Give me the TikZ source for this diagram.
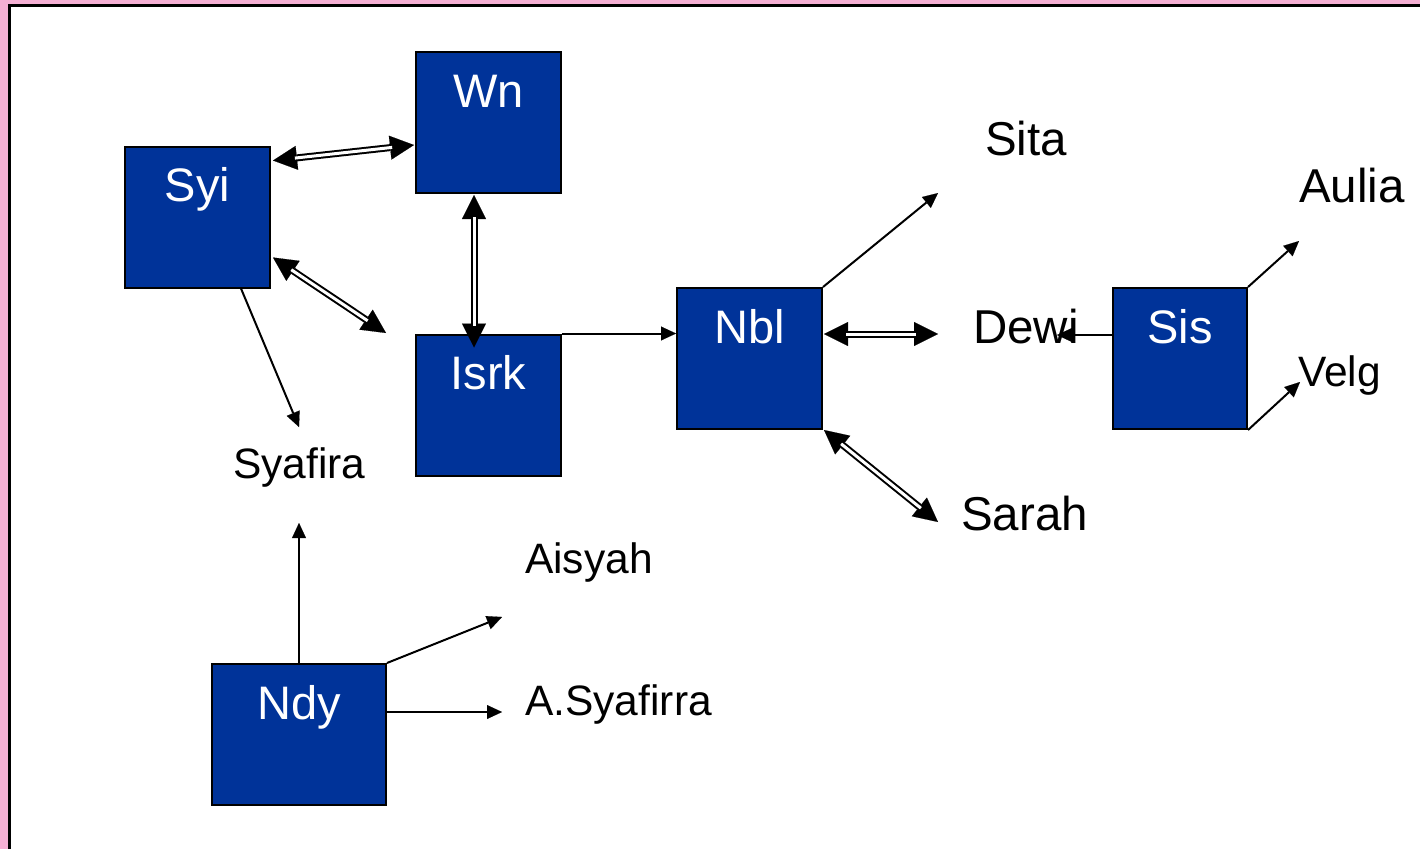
\documentclass[tikz,border=0pt]{standalone}
\usepackage{fontspec}
\setmainfont{Liberation Sans}
\usetikzlibrary{arrows.meta,calc}
\definecolor{boxblue}{RGB}{0,51,153}
\definecolor{pinkbg}{RGB}{245,176,212}
\tikzset{
  bx/.style={draw=black, line width=2pt, fill=boxblue, text=white, inner sep=0pt,
    minimum height=141pt, text height=55pt, text depth=86pt,
    font=\fontsize{47pt}{51pt}\selectfont},
  bigtxt/.style={inner sep=0pt, anchor=base west, font=\fontsize{47.5pt}{51pt}\selectfont},
  smtxt/.style={inner sep=0pt, anchor=base west, font=\fontsize{42.5pt}{46pt}\selectfont},
  sarr/.style={line width=2pt, -{Triangle[length=15pt,width=14pt,line width=0.1pt]}},
  dblout/.style={line width=7pt, {Triangle[length=24pt,width=24pt,line width=0.1pt]}-{Triangle[length=24pt,width=24pt,line width=0.1pt]}},
  dblin/.style={line width=3pt, white, shorten <=22pt, shorten >=22pt}
}
\begin{document}
\begin{tikzpicture}[x=1pt,y=-1pt]
\useasboundingbox (0,0) rectangle (1420,849);
\fill[pinkbg] (0,0) rectangle (1420,849);
\fill[white] (9,5) rectangle (1420,849);
\draw[line width=3pt] (9,849) -- (9,5) -- (1420,5);

% boxes
\node[bx, minimum width=145pt] (wn) at (488.5,122.5) {Wn};
\node[bx, minimum width=145pt] (syi) at (197.5,217) {Syi};
\node[bx, minimum width=145pt] (isrk) at (488.5,405) {Isrk};
\node[bx, minimum width=145pt] (nbl) at (749.5,358.5) {Nbl};
\node[bx, minimum width=134pt] (sis) at (1180,358.5) {Sis};
\node[bx, minimum width=174pt] (ndy) at (299,734.5) {Ndy};

% labels
\node[bigtxt] (sita) at (985,155) {Sita};
\node[bigtxt] (aulia) at (1299,202) {Aulia};
\node[bigtxt] (dewi) at (973,343) {Dewi};
\node[bigtxt] (sarah) at (961,530) {Sarah};
\node[smtxt] (velg) at (1298,386) {Velg};
\node[smtxt] (syafira) at (233,478) {Syafira};
\node[smtxt] (aisyah) at (525,573) {Aisyah};
\node[smtxt] (asyafirra) at (525,715) {A.Syafirra};

% connector end points
\coordinate (d1a) at ($(syi.north east)+(2,15)$);
\coordinate (d1b) at ($(wn.north west)+(-1,94)$);
\coordinate (d2a) at ($(syi.south east)+(2,-31)$);
\coordinate (c1) at (386,333);
\coordinate (d3a) at ($(wn.south)+(-14.5,1)$);
\coordinate (d3b) at ($(isrk.north)+(-14.5,14)$);
\coordinate (c2) at (938,334);
\coordinate (d4a) at ($(nbl.east |- c2)+(1,0)$);
\coordinate (d5a) at ($(nbl.south east)+(1,0)$);
\coordinate (c3) at (938,522);
\coordinate (c4) at (299,427);
\coordinate (c5) at (938,193);
\coordinate (c6) at (1057,335);
\coordinate (c7) at (1299,241);
\coordinate (c8) at (1300,382);
\coordinate (c9) at (299,523);
\coordinate (c10) at (502,617);
\coordinate (c11) at (502,712);

% double arrows
\foreach \a/\b in {d1a/d1b, d2a/c1, d3a/d3b, d4a/c2, d5a/c3}{
  \draw[dblout] (\a) -- (\b);
  \draw[dblin] (\a) -- (\b);
}

% single arrows
\draw[sarr] ($(syi.south)+(43.5,0)$) -- (c4);
\draw[sarr] (isrk.north east) -- (nbl.west |- isrk.north east);
\draw[sarr] (nbl.north east) -- (c5);
\draw[sarr] (sis.west |- c6) -- (c6);
\draw[sarr] (sis.north east) -- (c7);
\draw[sarr] (sis.south east) -- (c8);
\draw[sarr] (ndy.north) -- (c9);
\draw[sarr] (ndy.north east) -- (c10);
\draw[sarr] (ndy.east |- c11) -- (c11);
\end{tikzpicture}
\end{document}
